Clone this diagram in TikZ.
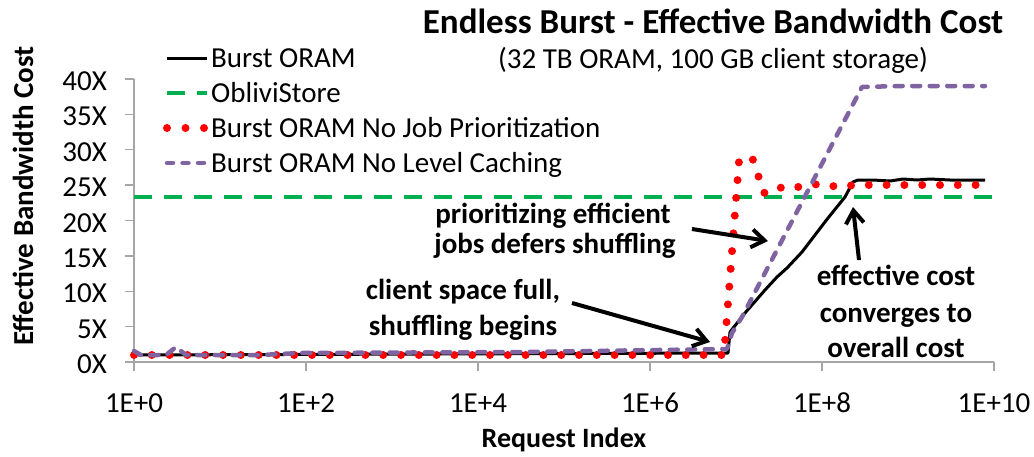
\documentclass[tikz,border=0pt]{standalone}
\usepackage{fontspec}
\setmainfont{Carlito}
\usetikzlibrary{arrows.meta}

\definecolor{axisgray}{HTML}{A6A6A6}
\definecolor{oblivgreen}{HTML}{00B050}
\definecolor{lvlpurple}{HTML}{8064A2}

\tikzset{
  reg/.style={font=\fontsize{29}{35}\selectfont, inner sep=0pt},
  bld/.style={font=\bfseries\fontsize{29}{35}\selectfont, inner sep=0pt},
  axisline/.style={draw=axisgray, line width=1.3pt},
  burst/.style={line width=3pt, black, line join=round},
  obliv/.style={line width=4pt, oblivgreen, dash pattern=on 18pt off 12pt},
  nojob/.style={line width=8pt, red, line cap=round, dash pattern=on 0pt off 17.8pt},
  nolevel/.style={line width=4.5pt, lvlpurple, line cap=round, line join=round,
                  dash pattern=on 8pt off 9.5pt},
  notearrow/.style={line width=4pt, line join=round,
                    -{Straight Barb[length=13pt,width=18pt]}}
}

\begin{document}
\begin{tikzpicture}[x=1pt,y=-1pt]
\useasboundingbox (0,0) rectangle (1034,456);

% title
\node[bld, font=\bfseries\fontsize{35}{40}\selectfont, anchor=base] (title) at (713,33)
  {Endless Burst - Effective Bandwidth Cost};
\node[reg, anchor=base] (subtitle) at (713,68) {(32 TB ORAM, 100 GB client storage)};

% axes
\draw[axisline] (134,79) -- (134,362) -- (994,362);
\foreach \v in {0,5,...,40} {
  \pgfmathsetmacro\yy{362-\v*7.075}
  \draw[axisline] (125,\yy) -- (134,\yy);
  \node[reg, anchor=base east] (ylab\v) at (107,\yy+11.5) {\v X};
}
\foreach \k/\lab in {0/1E+0,1/1E+2,2/1E+4,3/1E+6,4/1E+8,5/1E+10} {
  \pgfmathsetmacro\xx{134+172*\k}
  \draw[axisline] (\xx,362) -- (\xx,371);
  \node[reg, anchor=base] (xlab\k) at (\xx,412) {\lab};
}
\node[bld, rotate=90] (ytitle) at (23,196) {Effective Bandwidth Cost};
\node[bld, font=\bfseries\fontsize{28}{32}\selectfont, anchor=base] (xtitle) at (564,447) {Request Index};

% Burst ORAM
\draw[burst] (134,355) -- (728,353) -- (730,332) -- (745,313) -- (765,290) -- (777,277)
  -- (787,268) -- (802,252) -- (815,235) -- (828,218) -- (845,197) -- (853,182)
  -- (858,180) -- (873,180) -- (890,181) -- (903,179) -- (917,180) -- (930,179)
  -- (950,180) -- (985,180);

% ObliviStore
\draw[obliv] (134,197) -- (994,197);

% Burst ORAM without job prioritization
\draw[nojob] (134,355) -- (724,355) -- (739,161) -- (752,157) -- (764,193) -- (776,187)
  -- (790,189) -- (806,185) -- (822,184) -- (838,187) -- (855,185) -- (985,185);

% Burst ORAM without level caching
\draw[nolevel] (134,351) -- (141,355) -- (166,355) -- (176,347) -- (186,355) -- (260,355)
  -- (300,353) -- (520,352) -- (727,349) -- (732,333) -- (742,317) -- (862,87)
  -- (900,86) -- (985,86);

% legend
\draw[burst] (167,58) -- (207,58);
\node[reg, anchor=base west] (leg1) at (211,67.3) {Burst ORAM};
\draw[obliv] (167,93) -- (207,93);
\node[reg, anchor=base west] (leg2) at (211,102.3) {ObliviStore};
\draw[nojob, dash pattern=on 0pt off 18.5pt] (167,128) -- (207,128);
\node[reg, anchor=base west] (leg3) at (211,137.3) {Burst ORAM No Job Prioritization};
\draw[nolevel, dash pattern=on 6pt off 9.5pt] (167,163) -- (207,163);
\node[reg, anchor=base west] (leg4) at (211,172.3) {Burst ORAM No Level Caching};

% annotations
\node[bld, anchor=base] (pri1) at (553,223) {prioritizing efficient};
\node[bld, anchor=base] (pri2) at (555,253) {jobs defers shuffling};
\node[bld, anchor=base] (cli1) at (463,299) {client space full,};
\node[bld, anchor=base] (cli2) at (463,335) {shuffling begins};
\node[bld, anchor=base] (eff1) at (896,285) {effective cost};
\node[bld, anchor=base] (eff2) at (896,322) {converges to};
\node[bld, anchor=base] (eff3) at (896,357) {overall cost};

\coordinate (priFrom) at (692,229);
\coordinate (priTo) at (768,241);
\coordinate (cliFrom) at (572,303);
\coordinate (cliTo) at (710,342);
\coordinate (effFrom) at (859,260);
\coordinate (effTo) at (853,207);
\draw[notearrow] (priFrom) -- (priTo);
\draw[notearrow] (cliFrom) -- (cliTo);
\draw[notearrow] (effFrom) -- (effTo);
\end{tikzpicture}
\end{document}
